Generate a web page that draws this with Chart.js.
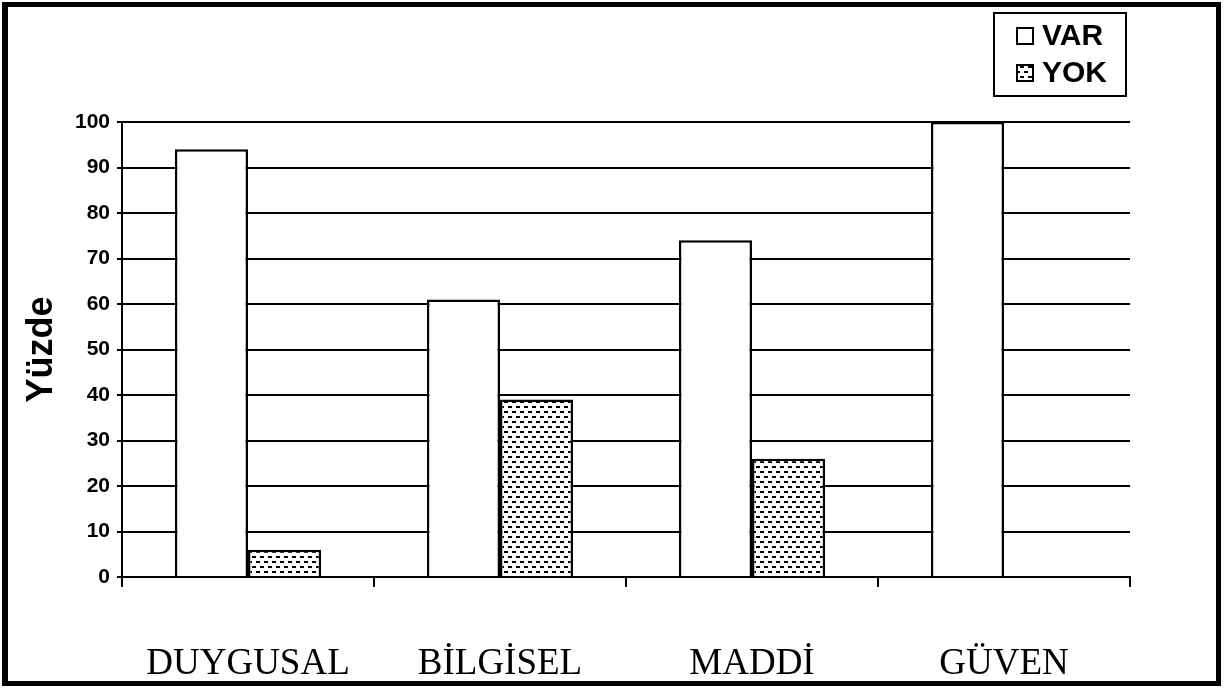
<!DOCTYPE html>
<html>
<head>
<meta charset="utf-8">
<script src="https://cdn.jsdelivr.net/npm/chart.js@4"></script>
<style>
  html, body { margin: 0; padding: 0; background: #fff; }
  #wrap { width: 1230px; height: 688px; }
</style>
</head>
<body>
<div id="wrap"><canvas id="c" width="1230" height="688"></canvas></div>
<script>
// Support type categories and percentage of answers per group
const categories = ['DUYGUSAL', 'BİLGİSEL', 'MADDİ', 'GÜVEN'];
const seriesNames = ['VAR', 'YOK'];
const varValues = [94, 61, 74, 100];
const yokValues = [6, 39, 26, 0];
const yMin = 0;
const yMax = 100;
const yStep = 10;
const yTitle = 'Yüzde';

const canvas = document.getElementById('c');
const ctx = canvas.getContext('2d');

// Small dashed "brick" fill used for the YOK series
function dashPattern() {
  const t = document.createElement('canvas');
  t.width = 8; t.height = 10;
  const g = t.getContext('2d');
  g.fillStyle = '#fff';
  g.fillRect(0, 0, 8, 10);
  g.fillStyle = '#000';
  g.fillRect(0, 1, 4, 2);
  g.fillRect(4, 6, 4, 2);
  return ctx.createPattern(t, 'repeat');
}
const yokFill = dashPattern();

// Thick frame around the whole figure
const frame = {
  id: 'frame',
  afterDraw(chart) {
    const c = chart.ctx;
    c.save();
    c.fillStyle = '#000';
    c.fillRect(2, 2, 1219, 5);      // top
    c.fillRect(2, 2, 6, 684);       // left
    c.fillRect(1216, 2, 5, 684);    // right
    c.fillRect(2, 681, 1219, 5);    // bottom
    c.restore();
  }
};

// Boxed legend in the upper right corner
const legendBox = {
  id: 'legendBox',
  afterDraw(chart) {
    const c = chart.ctx;
    c.save();
    c.lineWidth = 2;
    c.strokeStyle = '#000';
    c.strokeRect(994, 13, 132, 83);
    chart.data.datasets.forEach((ds, i) => {
      const y = 36 + i * 37;
      c.fillStyle = ds.backgroundColor;
      c.fillRect(1017, y - 8, 16, 16);
      c.lineWidth = 2;
      c.strokeRect(1017, y - 8, 16, 16);
      c.fillStyle = '#000';
      c.font = 'bold 30px "Liberation Sans", Arial, sans-serif';
      c.textBaseline = 'middle';
      c.textAlign = 'left';
      c.fillText(ds.label, 1042, y + 1);
    });
    c.restore();
  }
};

new Chart(ctx, {
  type: 'bar',
  data: {
    labels: categories,
    datasets: [
      { label: seriesNames[0], data: varValues, backgroundColor: '#fff', borderColor: '#000', borderWidth: 2.5 },
      { label: seriesNames[1], data: yokValues, backgroundColor: yokFill, borderColor: '#000', borderWidth: 2.5 }
    ]
  },
  options: {
    responsive: false,
    animation: false,
    devicePixelRatio: 1,
    layout: { padding: { left: 0, top: 122, right: 100, bottom: 0 } },
    datasets: { bar: { categoryPercentage: 0.58, barPercentage: 1 } },
    plugins: { legend: { display: false }, tooltip: { enabled: false } },
    scales: {
      x: {
        offset: true,
        grid: { display: true, drawOnChartArea: false, drawTicks: true, tickLength: 10, color: '#000', lineWidth: 2, offset: true },
        border: { display: true, color: '#000', width: 2 },
        ticks: { color: '#000', font: { family: '"Liberation Serif", "Times New Roman", serif', size: 37 }, padding: 55, maxRotation: 0, autoSkip: false },
        afterFit(s) { s.height = 111; }
      },
      y: {
        min: yMin, max: yMax,
        ticks: { stepSize: yStep, color: '#000', font: { family: '"Liberation Sans", Arial, sans-serif', size: 21, weight: 'bold' }, padding: 7 },
        grid: { color: '#000', lineWidth: 2, tickLength: 5 },
        border: { display: true, color: '#000', width: 2 },
        title: { display: true, text: yTitle, color: '#000', font: { family: '"Liberation Sans", Arial, sans-serif', size: 36, weight: 'bold' }, padding: { top: 20, bottom: 0 } },
        afterFit(s) { s.width = 122; }
      }
    }
  },
  plugins: [frame, legendBox]
});
</script>
</body>
</html>
